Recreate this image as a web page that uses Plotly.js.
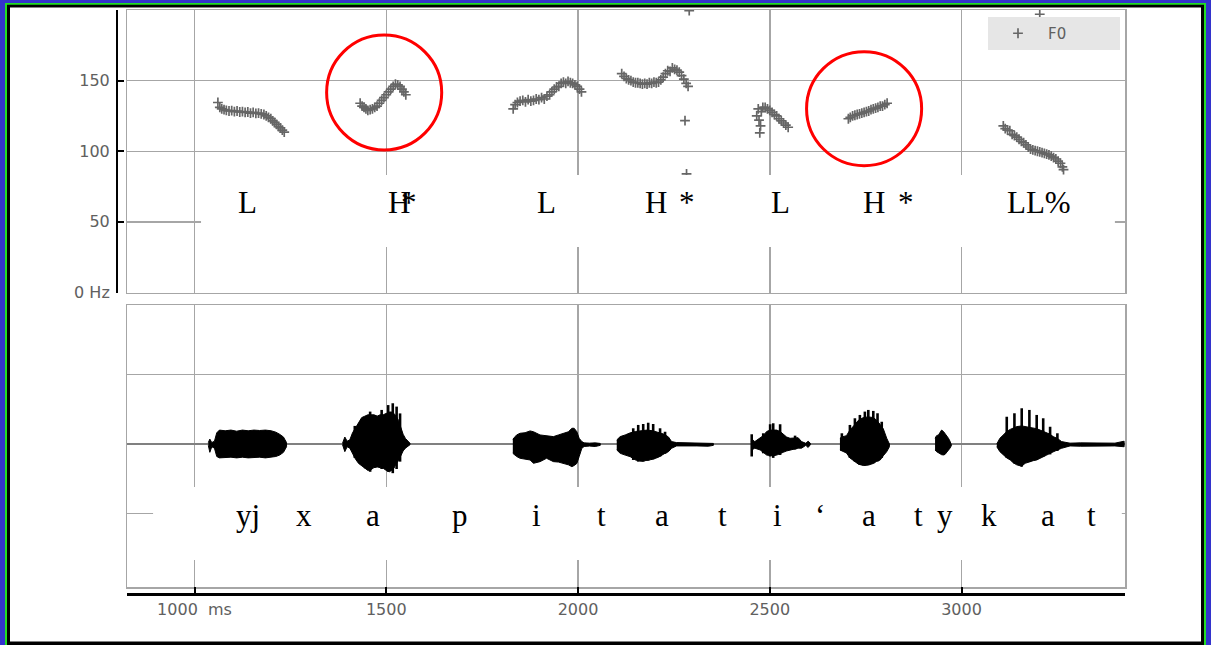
<!DOCTYPE html>
<html><head><meta charset="utf-8">
<script src="https://cdn.plot.ly/plotly-3.0.1.min.js"></script>
<style>html,body{margin:0;padding:0;background:#fff;} #chart{width:1211px;height:645px;}</style>
</head><body><div id="chart"></div>
<script>
// ---------- F0 (Hz) pitch track, time in ms ----------
const f0Seg1T  = [1061,1066,1071,1077,1083,1090,1097,1104,1111,1118,1125,1132,1139,1146,1153,1160,1167,1174,1181,1187,1193,1199,1204,1209,1214,1219,1224,1229,1234];
const f0Seg1Hz = [134.5,131,130,129.5,129,128.5,128.8,128,128.5,127.8,128,127.5,127.8,127,127.5,126.8,127,126.5,126,125,124,123,121.5,120.5,119,117.5,116.5,115,113.5];
const f0Seg2T  = [1432,1437,1442,1447,1452,1458,1464,1470,1476,1482,1488,1494,1500,1506,1512,1518,1524,1530,1536,1541,1546,1551];
const f0Seg2Hz = [134,132,131,130,129,129.5,130,131,132,134,136,138,140,142,144,146,147.5,147,146,144,142,140];
const f0Seg3T  = [1831,1836,1842,1849,1856,1863,1870,1877,1884,1891,1898,1905,1912,1919,1926,1932,1938,1944,1950,1956,1962,1968,1974,1980,1986,1992,1998,2004,2009];
const f0Seg3Hz = [130,133,134.5,135.5,136,135,136.5,135.5,136,137,136.5,138,137,139,140,142,144,145.5,146,148,149,148,149.5,148.5,148,147,146,144,142];
const f0Seg4T  = [2114,2120,2126,2132,2138,2144,2150,2156,2162,2168,2174,2180,2186,2192,2198,2204,2210,2216,2222,2228,2234,2240,2246,2252,2258,2264,2270,2276,2282,2287,2279,2283,2290];
const f0Seg4Hz = [155,153,151.5,150.5,150,149,148.5,148.5,148,147.5,148,147.5,148.5,148,149,148.5,149,150.5,152.5,155,157,156.5,159,158,157.5,156,153.5,151,148,146,121.7,84,199.5];
const f0Seg5T  = [2466,2470,2472,2474,2476,2478,2482,2488,2494,2500,2506,2512,2518,2524,2530,2536,2542,2548];
const f0Seg5Hz = [125,130,122,113,118,128,131,131,130,129,127.5,126,125,123,121.5,120,118.5,117];
const f0Seg6T  = [2705,2710,2716,2722,2728,2734,2740,2746,2752,2758,2764,2770,2776,2782,2788,2794,2800,2806];
const f0Seg6Hz = [123,124,125,125.5,126,126.5,127,127.5,128,128.5,129.5,130,130.5,131,132,132,133,134];
const f0Seg7T  = [3109,3114,3120,3126,3132,3138,3144,3150,3156,3162,3168,3174,3180,3186,3192,3198,3204,3210,3216,3222,3228,3234,3240,3246,3252,3258,3263,3266,3204];
const f0Seg7Hz = [118,116,115,114.5,112,111,110,108.5,107,106,104.5,103,101.5,101,100.5,100,99.5,99,98.5,98,97.5,96.5,95.5,94.5,93,91.5,89,87,197];

// ---------- waveform envelope (relative amplitude), time in ms ----------
const wave1T   = [1036,1040,1045,1052,1058,1065,1080,1095,1110,1125,1140,1155,1170,1185,1200,1212,1222,1232,1240];
const wave1Top = [0.01,0.035,0.01,0.02,0.08,0.1,0.095,0.1,0.092,0.1,0.095,0.1,0.097,0.1,0.095,0.085,0.07,0.05,0.01];
const wave1Bot = [-0.01,-0.06,-0.02,-0.03,-0.09,-0.1,-0.1,-0.095,-0.1,-0.095,-0.1,-0.1,-0.095,-0.1,-0.095,-0.09,-0.08,-0.06,-0.02];
const wave2T   = [1386,1392,1398,1405,1412,1420,1428,1436,1444,1452,1460,1468,1476,1484,1492,1500,1508,1514,1520,1526,1532,1538,1544,1550,1556,1562];
const wave2Top = [0.005,0.05,0.02,0.03,0.08,0.12,0.16,0.19,0.2,0.21,0.21,0.21,0.2,0.21,0.21,0.22,0.23,0.23,0.22,0.2,0.17,0.12,0.07,0.04,0.02,0.005];
const wave2Bot = [-0.005,-0.055,-0.02,-0.03,-0.07,-0.11,-0.14,-0.16,-0.175,-0.19,-0.185,-0.17,-0.165,-0.17,-0.175,-0.19,-0.2,-0.19,-0.175,-0.14,-0.12,-0.09,-0.05,-0.03,-0.015,-0.005];
const wave3T   = [1830,1840,1849,1862,1875,1884,1901,1918,1936,1949,1962,1975,1984,1990,1997,2003,2010,2016,2030,2045,2058];
const wave3Top = [0.034,0.065,0.077,0.081,0.094,0.088,0.065,0.058,0.053,0.065,0.077,0.088,0.113,0.113,0.088,0.041,0.017,0.008,0.006,0.008,0.004];
const wave3Bot = [-0.067,-0.09,-0.103,-0.11,-0.115,-0.139,-0.127,-0.103,-0.127,-0.13,-0.139,-0.15,-0.163,-0.155,-0.14,-0.091,-0.031,-0.018,-0.015,-0.018,-0.01];
const wave4T   = [2101,2110,2123,2136,2150,2165,2180,2195,2210,2225,2236,2244,2257,2280,2310,2340,2353];
const wave4Top = [0.029,0.053,0.065,0.08,0.09,0.095,0.1,0.095,0.085,0.07,0.05,0.017,0.01,0.008,0.006,0.008,0.004];
const wave4Bot = [-0.043,-0.067,-0.08,-0.091,-0.115,-0.125,-0.12,-0.11,-0.095,-0.07,-0.055,-0.031,-0.014,-0.016,-0.014,-0.016,-0.01];
const wave5T   = [2452,2455,2461,2475,2483,2492,2501,2509,2518,2527,2535,2544,2553,2566,2574,2583,2594,2600,2606];
const wave5Top = [0.02,0.03,0.017,0.041,0.06,0.09,0.1,0.1,0.1,0.09,0.07,0.05,0.041,0.045,0.045,0.017,0.005,0.02,0.005];
const wave5Bot = [-0.03,-0.04,-0.03,-0.043,-0.06,-0.08,-0.085,-0.085,-0.08,-0.07,-0.06,-0.05,-0.043,-0.035,-0.03,-0.03,-0.01,-0.025,-0.005];
const wave6T   = [2683,2688,2700,2709,2722,2731,2744,2757,2770,2779,2788,2796,2805,2812];
const wave6Top = [0.041,0.05,0.06,0.1,0.14,0.17,0.19,0.195,0.19,0.17,0.14,0.11,0.041,0.0];
const wave6Bot = [-0.043,-0.05,-0.065,-0.1,-0.127,-0.145,-0.155,-0.152,-0.14,-0.125,-0.115,-0.085,-0.055,-0.02];
const wave7T   = [2931,2935,2940,2944,2948,2953,2957,2962,2966,2970,2974];
const wave7Top = [0.041,0.06,0.065,0.08,0.1,0.09,0.077,0.06,0.041,0.02,0.0];
const wave7Bot = [-0.043,-0.055,-0.065,-0.07,-0.077,-0.079,-0.075,-0.06,-0.043,-0.03,-0.01];
const wave8T   = [3092,3100,3109,3118,3127,3135,3144,3157,3166,3179,3187,3196,3205,3213,3222,3231,3239,3250,3261,3272,3283,3310,3340,3370,3400,3424];
const wave8Top = [0.0,0.041,0.065,0.09,0.105,0.115,0.125,0.13,0.125,0.12,0.115,0.11,0.1,0.09,0.08,0.07,0.053,0.04,0.017,0.012,0.006,0.008,0.006,0.008,0.006,0.02];
const wave8Bot = [-0.02,-0.055,-0.08,-0.1,-0.115,-0.135,-0.15,-0.16,-0.139,-0.127,-0.12,-0.115,-0.1,-0.091,-0.08,-0.067,-0.055,-0.043,-0.031,-0.02,-0.014,-0.016,-0.014,-0.016,-0.014,-0.02];

// glottal pulse spikes (time in ms, peak and trough amplitude)
const pulseT   = [1418,1431,1445,1458,1471,1488,1505,1517,1527,1536, 2144,2157,2170,2183,2196,2214,2227, 2453,2483,2501,2509,2527,2566, 2688,2709,2722,2735,2748,2757,2770,2781,2792, 3118,3138,3157,3177,3196,3213,3231,3250];
const pulseTop = [0.13,0.15,0.196,0.233,0.209,0.245,0.28,0.293,0.269,0.22, 0.113,0.137,0.144,0.153,0.144,0.113,0.088, 0.07,0.077,0.142,0.149,0.142,0.06, 0.077,0.137,0.185,0.209,0.233,0.245,0.238,0.221,0.16, 0.196,0.221,0.257,0.245,0.209,0.185,0.124,0.077];
const pulseBot = [-0.1,-0.14,-0.175,-0.2,-0.17,-0.18,-0.2,-0.21,-0.18,-0.127, -0.115,-0.127,-0.127,-0.12,-0.11,-0.09,-0.07, -0.09,-0.067,-0.09,-0.1,-0.079,-0.04, -0.05,-0.1,-0.127,-0.151,-0.155,-0.151,-0.139,-0.125,-0.1, -0.1,-0.14,-0.163,-0.13,-0.115,-0.091,-0.075,-0.05];

// ---------- axis ticks ----------
const timeTickVals = [1000,1500,2000,2500,3000];
const timeTickText = ['1000\u00a0\u00a0ms','1500','2000','2500','3000'];
const hzTickVals = [0,50,100,150];
const hzTickText = ['0 Hz','50','100','150'];

// ---------- transcription labels ----------
const toneLabels = ['L','H','*','L','H','*','L','H','*','LL%'];
const toneX      = [1138,1533,1559,1919,2203,2283,2529,2772,2854,3201];
const segLabels  = ['yj','x','a','p','i','t','a','t','i','\u2018','a','t','y','k','a','t'];
const segX       = [1140,1286,1465,1692,1893,2060,2219,2378,2519,2631,2759,2887,2957,3072,3226,3340];

// ---------- build traces ----------
function joinSegs(ts, vs){ const x=[],y=[]; ts.forEach((t,i)=>{ if(i) {x.push(null);y.push(null);} x.push(...t); y.push(...vs[i]); }); return {x,y}; }
const f0 = joinSegs([f0Seg1T,f0Seg2T,f0Seg3T,f0Seg4T,f0Seg5T,f0Seg6T,f0Seg7T],[f0Seg1Hz,f0Seg2Hz,f0Seg3Hz,f0Seg4Hz,f0Seg5Hz,f0Seg6Hz,f0Seg7Hz]);
const traces = [{
  type:'scatter', mode:'markers', name:'F0', x:f0.x, y:f0.y, xaxis:'x', yaxis:'y',
  marker:{symbol:'cross-thin', size:7, color:'#666', line:{width:1.7, color:'#666'}},
  hoverinfo:'skip', showlegend:true
}];
const bursts = [[wave1T,wave1Top,wave1Bot],[wave2T,wave2Top,wave2Bot],[wave3T,wave3Top,wave3Bot],[wave4T,wave4Top,wave4Bot],[wave5T,wave5Top,wave5Bot],[wave6T,wave6Top,wave6Bot],[wave7T,wave7Top,wave7Bot],[wave8T,wave8Top,wave8Bot]];
bursts.forEach(b=>{
  const [t,top,bot]=b;
  traces.push({type:'scatter', mode:'lines', x:t.concat(t.slice().reverse()), y:top.concat(bot.slice().reverse()),
    fill:'toself', fillcolor:'#000', line:{color:'#000', width:1}, xaxis:'x2', yaxis:'y2', showlegend:false, hoverinfo:'skip'});
});
const spX=[], spY=[];
pulseT.forEach((t,i)=>{ spX.push(t,t,null); spY.push(pulseBot[i],pulseTop[i],null); });
traces.push({type:'scatter', mode:'lines', x:spX, y:spY, line:{color:'#000', width:2.6}, xaxis:'x2', yaxis:'y2', showlegend:false, hoverinfo:'skip'});
// empty traces so that the free (overlaying) axes get drawn
traces.push({type:'scatter', mode:'markers', x:[], y:[], xaxis:'x', yaxis:'y3', showlegend:false, hoverinfo:'skip'});
traces.push({type:'scatter', mode:'markers', x:[], y:[], xaxis:'x3', yaxis:'y2', showlegend:false, hoverinfo:'skip'});

// ---------- layout ----------
const W=1211, H=645;
const px = v=>v/W, py = v=>1-v/H;
const xRange=[824,3426.3];
const grid='#a6a6a6';
const shapes=[
  {type:'rect', xref:'paper', yref:'paper', x0:px(5), x1:px(1206), y0:py(3), y1:py(646), fillcolor:'#22dd22', line:{width:0}, layer:'below'},
  {type:'rect', xref:'paper', yref:'paper', x0:px(7), x1:px(1204), y0:py(4.7), y1:py(646), fillcolor:'#000', line:{width:0}, layer:'below'},
  {type:'rect', xref:'paper', yref:'paper', x0:px(10), x1:px(1201), y0:py(7.5), y1:py(641.5), fillcolor:'#fff', line:{width:0}, layer:'below'},
  {type:'rect', xref:'x', yref:'y', x0:1017, x1:3400, y0:32.2, y1:83.2, fillcolor:'#fff', line:{width:0}, layer:'above'},
  {type:'rect', xref:'x2', yref:'y2', x0:892, x1:3418, y0:-0.835, y1:-0.309, fillcolor:'#fff', line:{width:0}, layer:'above'},
  {type:'circle', xref:'x', yref:'y', x0:1344.5, x1:1644.6, y0:100.9, y1:182.3, line:{color:'#ff0000', width:3}, layer:'above'},
  {type:'circle', xref:'x', yref:'y', x0:2596, x1:2896, y0:89.8, y1:170.5, line:{color:'#ff0000', width:3}, layer:'above'}
];
const serif={family:'Liberation Serif, Times New Roman, serif', size:31, color:'#000'};
const annotations=[];
toneLabels.forEach((s,i)=>annotations.push({xref:'x', yref:'paper', x:toneX[i], y:py(202.5), text:s, showarrow:false, font:serif, xanchor:'center', yanchor:'middle'}));
segLabels.forEach((s,i)=>annotations.push({xref:'x2', yref:'paper', x:segX[i], y:py(515.5), text:s, showarrow:false, font:serif, xanchor:'center', yanchor:'middle'}));

const tickFont={family:'DejaVu Sans', size:16, color:'#606060'};
const layout={
  width:W, height:H, margin:{l:0,r:0,t:0,b:0},
  paper_bgcolor:'#3333cc', plot_bgcolor:'#fff', showlegend:true,
  legend:{x:px(988), y:py(17), xanchor:'left', yanchor:'top', bgcolor:'#e6e6e6', borderwidth:0, orientation:'h',
          font:{family:'DejaVu Sans', size:15, color:'#606060'}, itemwidth:50, entrywidth:67},
  xaxis:{domain:[px(127),px(1125)], range:xRange, anchor:'y', tickvals:timeTickVals, showticklabels:false, ticks:'',
         showgrid:true, gridcolor:grid, gridwidth:1.5, showline:true, mirror:true, linecolor:grid, linewidth:1.5, zeroline:false},
  yaxis:{domain:[py(292.5),py(10)], range:[0,200], anchor:'x', tickvals:[50,100,150], showticklabels:false, ticks:'',
         showgrid:true, gridcolor:grid, gridwidth:1.5, showline:true, mirror:true, linecolor:grid, linewidth:1.5, zeroline:false},
  yaxis3:{overlaying:'y', anchor:'free', position:px(117), side:'left', range:[0,200], tickvals:hzTickVals, ticktext:hzTickText,
          ticks:'inside', ticklen:6, tickwidth:2, tickcolor:'#000', showline:true, linecolor:'#000', linewidth:2,
          showgrid:false, zeroline:false, tickfont:tickFont, ticklabelstandoff:3},
  xaxis2:{domain:[px(127),px(1125)], range:xRange, anchor:'y2', tickvals:timeTickVals, showticklabels:false, ticks:'',
         showgrid:true, gridcolor:grid, gridwidth:1.5, showline:true, mirror:true, linecolor:grid, linewidth:1.5, zeroline:false},
  yaxis2:{domain:[py(587),py(305)], range:[-1.029,1.0], anchor:'x2', tickvals:[-0.5,0.5], showticklabels:false, ticks:'',
         showgrid:true, gridcolor:grid, gridwidth:1.5, showline:true, mirror:true, linecolor:grid, linewidth:1.5,
         zeroline:true, zerolinecolor:'#808080', zerolinewidth:1.5},
  xaxis3:{overlaying:'x2', anchor:'free', position:py(594), side:'bottom', range:xRange, tickvals:timeTickVals, ticktext:timeTickText,
          ticks:'inside', ticklen:6, tickwidth:2, tickcolor:'#000', showline:true, linecolor:'#000', linewidth:2.5,
          showgrid:false, zeroline:false, tickfont:tickFont},
  shapes, annotations
};
Plotly.newPlot('chart', traces, layout, {staticPlot:true, displayModeBar:false});
</script></body></html>
